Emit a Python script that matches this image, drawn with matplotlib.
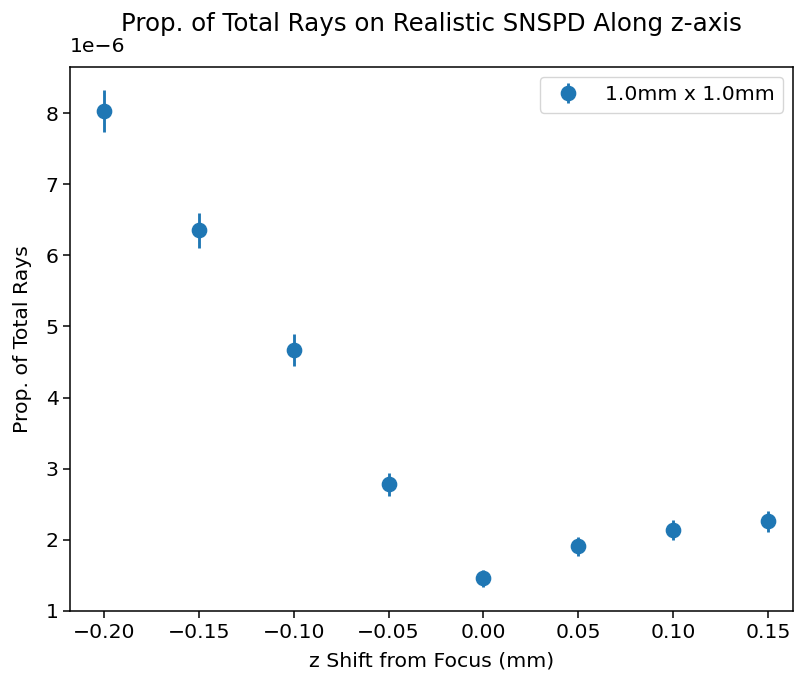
import numpy as np
import matplotlib.pyplot as plt

# dados (unidade 1e-6)
z_shift = [-0.20, -0.15, -0.10, -0.05, 0.00, 0.05, 0.10, 0.15]
prop = [8.03, 6.35, 4.67, 2.78, 1.46, 1.91, 2.14, 2.26]
erro = [0.29, 0.25, 0.22, 0.16, 0.12, 0.13, 0.14, 0.15]

s = 1.37   # escala das linhas
f = 1.47   # escala das fontes
fig = plt.figure(figsize=(7.94, 6.76), dpi=100)
ax = fig.add_axes([70/794, 1-611/676, 723/794, 544/676])

ax.errorbar(z_shift, prop, yerr=erro, fmt='o',
            color='#1f77b4', markersize=7.5*s, elinewidth=1.5*s, label='1.0mm x 1.0mm')

ax.set_xlim(-0.2179, 0.1632)
ax.set_ylim(1, 8.647)
ax.set_xticks([-0.20, -0.15, -0.10, -0.05, 0.00, 0.05, 0.10, 0.15])
ax.set_yticks(np.arange(1, 9))
ax.tick_params(labelsize=10*f, length=3.5*s, width=0.8*s)
for sp in ax.spines.values():
    sp.set_linewidth(0.8*s)

# texto do fator de escala
ax.annotate('1e\u22126', xy=(0, 1), xycoords='axes fraction', xytext=(0, 8),
            textcoords='offset points', ha='left', va='bottom', fontsize=10*f)

ax.set_title('Prop. of Total Rays on Realistic SNSPD Along z-axis', fontsize=12*f, pad=26)
ax.set_xlabel('z Shift from Focus (mm)', fontsize=10*f, labelpad=7)
ax.set_ylabel('Prop. of Total Rays', fontsize=10*f, labelpad=10)
ax.legend(fontsize=10*f)

fig.savefig('out.png', dpi=100)
